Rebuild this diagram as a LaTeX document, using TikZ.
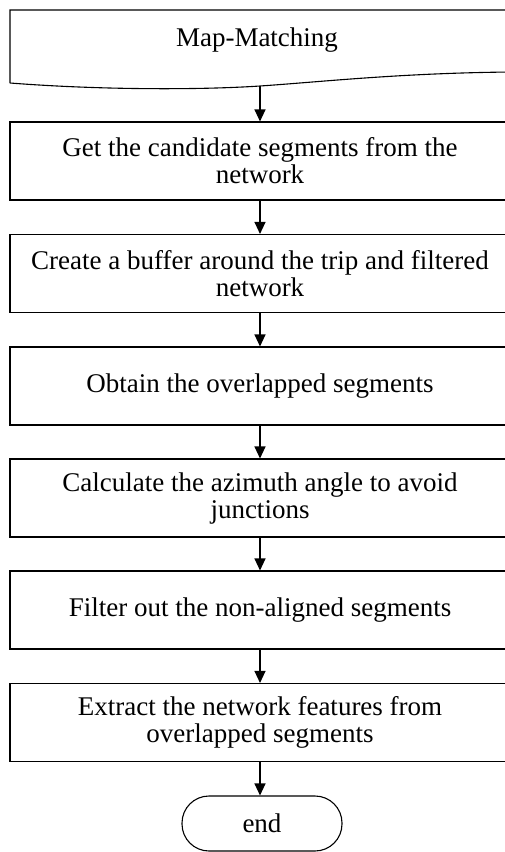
\documentclass[tikz,border=0pt]{standalone}
\usepackage{fontspec}
\setmainfont{Liberation Serif}
\usetikzlibrary{arrows.meta}
\begin{document}
\begin{tikzpicture}[x=1pt,y=-1pt,
  every node/.style={font=\fontsize{27}{27}\selectfont, align=center, inner sep=0pt},
  stepbox/.style={draw, line width=1.1pt, minimum width=500pt, minimum height=78pt},
  endbox/.style={draw, line width=1.1pt, minimum width=160pt, minimum height=55pt, rounded corners=27pt},
  flow/.style={line width=1.1pt, -{Triangle[width=11pt,length=12pt]}}]
\useasboundingbox (0,0) rectangle (504,852);
% document shape
\draw[line width=1.1pt] (10,83) -- (10,10) -- (512,10) -- (512,72)
  .. controls (400,73) and (320,82) .. (260,86)
  .. controls (200,90) and (100,90) .. (10,83);
\node (top) at (257,40) {Map-Matching};
\coordinate (topout) at (260,86);
\node[stepbox] (b1) at (260,161) {Get the candidate segments from the\\network};
\node[stepbox] (b2) at (260,273.5) {Create a buffer around the trip and filtered\\network};
\node[stepbox] (b3) at (260,386) {Obtain the overlapped segments};
\node[stepbox] (b4) at (260,498) {Calculate the azimuth angle to avoid\\junctions};
\node[stepbox] (b5) at (260,610) {Filter out the non-aligned segments};
\node[stepbox] (b6) at (260,722.5) {Extract the network features from\\overlapped segments};
\node[endbox] (end) at (262,823.5) {end};
\draw[flow] (topout) -- (b1.north);
\draw[flow] (b1) -- (b2);
\draw[flow] (b2) -- (b3);
\draw[flow] (b3) -- (b4);
\draw[flow] (b4) -- (b5);
\draw[flow] (b5) -- (b6);
\draw[flow] (b6.south) -- (b6.south |- end.north);
\end{tikzpicture}
\end{document}
